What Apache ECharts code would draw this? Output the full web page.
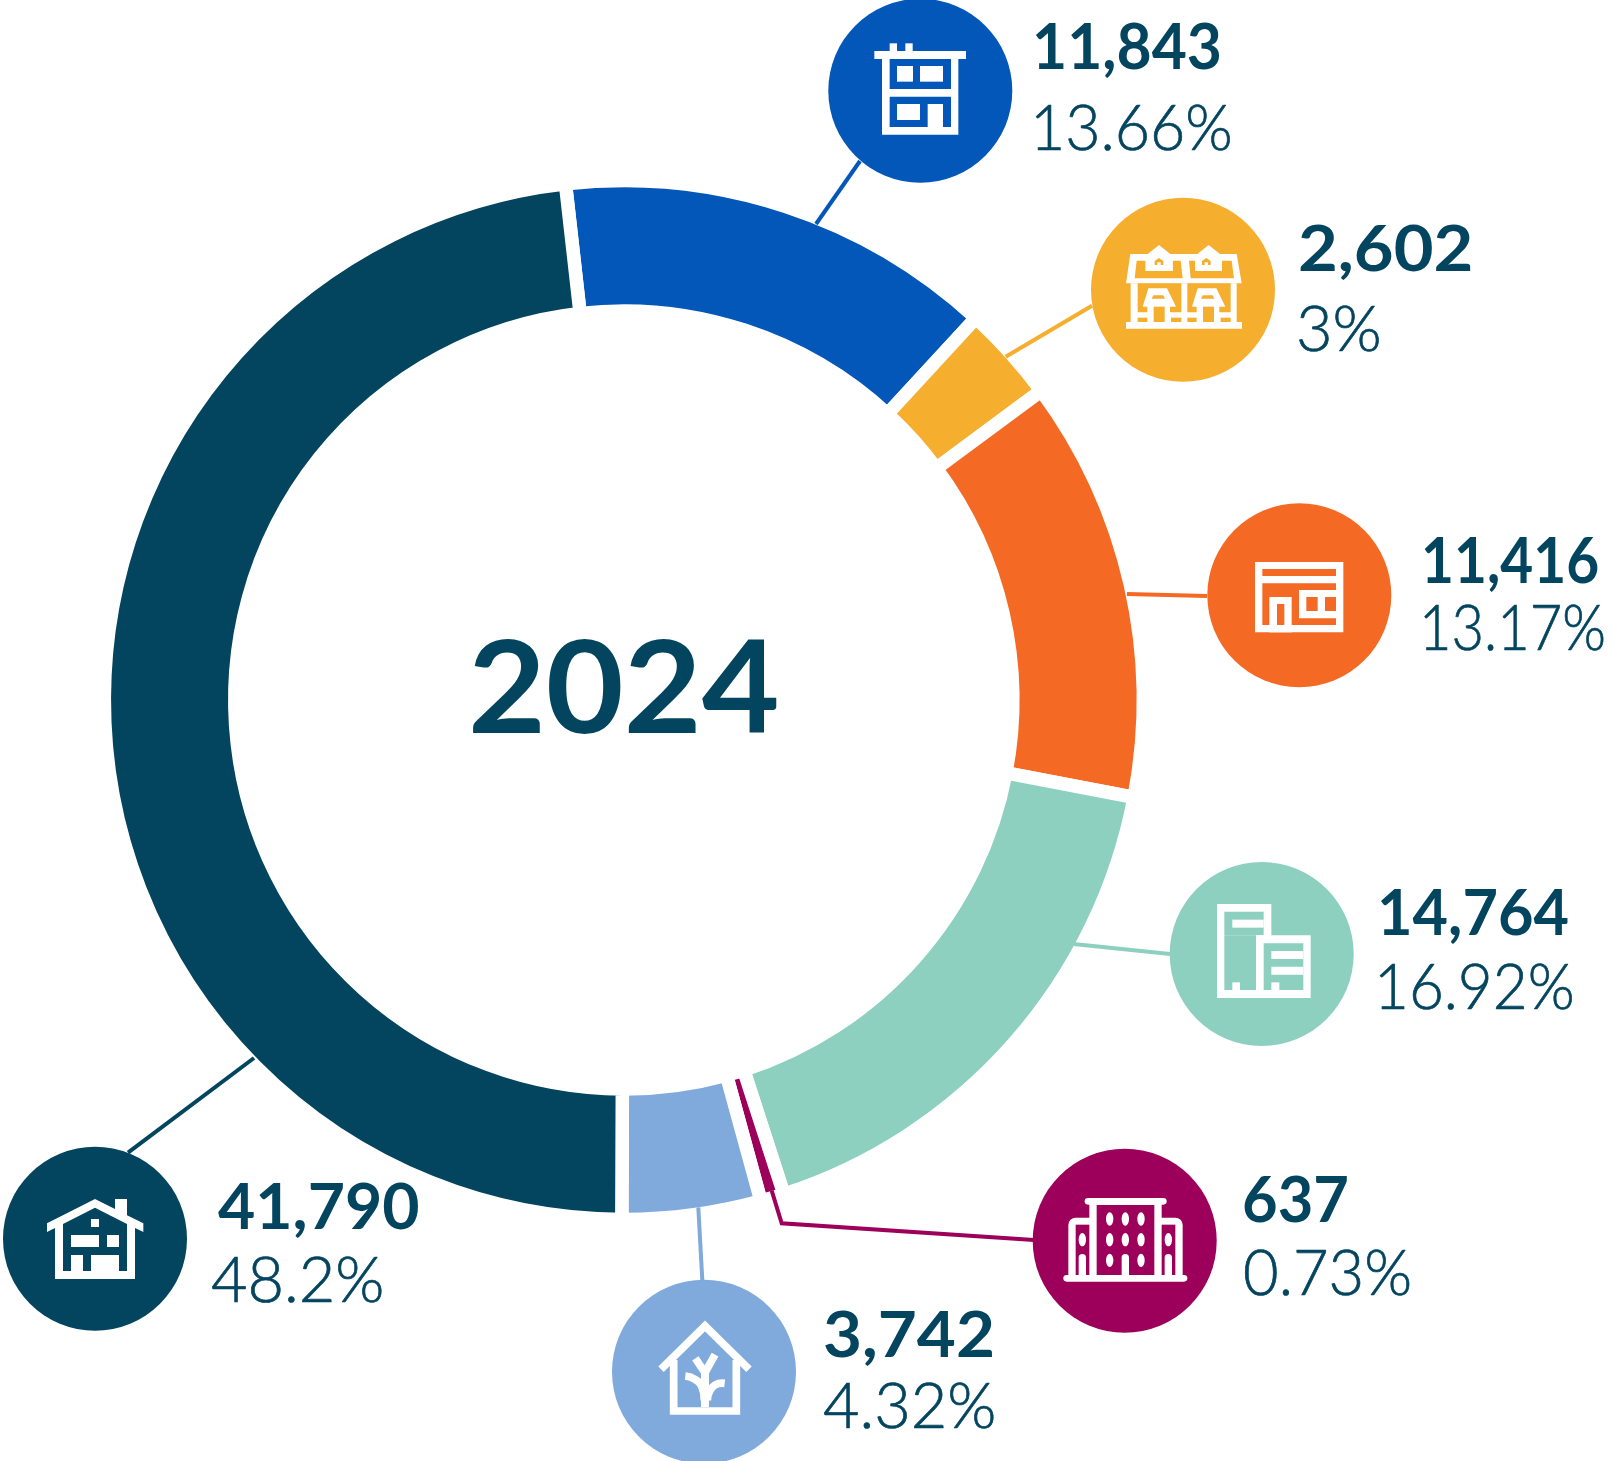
<!DOCTYPE html>
<html><head><meta charset="utf-8">
<style>html,body{margin:0;padding:0;background:#fff}#c{width:1614px;height:1461px}</style>
<script src="https://cdn.jsdelivr.net/npm/echarts@6/dist/echarts.min.js"></script>
</head><body><div id="c"></div>
<script>
const centerLabel = '2024';
const categories = ['Apartment','Townhouse','Mixed use','Office tower','Mid-rise','Garden home','House'];
const values = [11843, 2602, 11416, 14764, 637, 3742, 41790];
const shares = ['13.66%','3%','13.17%','16.92%','0.73%','4.32%','48.2%'];
const colors = ['#0357b8','#f5ae2e','#f46a25','#8dd0c0','#9d005b','#81aadc','#03445f'];
const ink = '#03445f';

const layout = [
 {c:[920.3,90.7], z:[800,0],   line:[[860,161],[816,224]],              tx:1032, vy:80, px:1030, py:161, vs:.947, ps:.965},
 {c:[1183,289.7], z:[1090,190],line:[[1092,305.7],[1005.7,356.7]],      tx:1298, vy:282, px:1296, py:362, vs:1.072, ps:1},
 {c:[1299.3,595.3],z:[1200,500],line:[[1127,594],[1207,596]],           tx:1421, vy:594, px:1419, py:661, vs:.888, ps:.89},
 {c:[1261.7,954], z:[1160,860],line:[[1073.6,943.9],[1170,954]],        tx:1377, vy:946, px:1374, py:1020, vs:.957, ps:.955},
 {c:[1124.7,1240.7],z:[1030,1140],line:[[771.7,1190.7],[781.7,1223.3],[1034,1240]],tx:1242, vy:1233, px:1243, py:1306, vs:.96, ps:.975},
 {c:[704,1371.7], z:[600,1270],line:[[698.3,1207.3],[702.3,1280]],      tx:823, vy:1368, px:823, py:1439, vs:1.052, ps:1},
 {c:[95,1238.7],  z:[0,1140],  line:[[254,1058],[128,1152.7]],          tx:218, vy:1240, px:211, py:1313, vs:1.005, ps:1}
];
const W='#fff';
const box=(x1,y1,x2,y2,f)=>({type:'rect',shape:{x:x1,y:y1,width:x2-x1,height:y2-y1},style:{fill:f}});
const rnd=(x1,y1,x2,y2,r,f)=>({type:'rect',shape:{x:x1,y:y1,width:x2-x1,height:y2-y1,r:r},style:{fill:f}});
const poly=(p,f)=>({type:'polygon',shape:{points:p},style:{fill:f}});
const oval=(cx,cy,rx,ry,f)=>({type:'ellipse',shape:{cx,cy,rx,ry},style:{fill:f}});
const stroke=(p,w,smooth)=>({type:'polyline',shape:{points:p,smooth:smooth||0},style:{stroke:W,lineWidth:w,fill:null,lineJoin:'miter'}});

function iconParts(i,H){
 if(i===0) return [
  box(223,153,498,177,W),box(269,130,291,153,W),box(316,130,338,153,W),
  box(246,177,475,404,W),box(269,177,453,267,H),box(269,290,453,381,H),
  box(291,198,339,245,W),box(360,198,429,245,W),box(291,312,360,360,W),box(383,312,429,381,W)];
 if(i===1){
  const out=[poly([[121,192],[440,192],[455,280],[108,280]],W),
   poly([[140,212],[167,212],[167,243],[248,243],[248,212],[272,212],[278,265],[134,265]],H),
   poly([[297,212],[316,212],[316,243],[396,243],[396,212],[425,212],[432,265],[302,265]],H),
   poly([[173,192],[207,165],[241,192]],W),poly([[322,192],[356,165],[390,192]],W),
   box(167,192,248,243,W),box(316,192,396,243,W),
   poly([[194,213],[207,204],[220,213],[220,225],[212,225],[212,217],[202,217],[202,225],[194,225]],H),
   poly([[336,213],[349,204],[362,213],[362,225],[354,225],[354,217],[344,217],[344,225],[336,225]],H),
   box(122,280,440,400,W),box(108,396,456,416,W),
   box(143,280,274,367,H),box(292,280,422,367,H)];
  [0,148].forEach(d=>{out.push(
   poly([[175+d,295],[231+d,295],[258+d,350],[240+d,350],[240+d,396],[172+d,396],[172+d,350],[158+d,350]],W),
   poly([[190+d,316],[220+d,316],[225+d,326],[185+d,326]],H),
   box(191+d,350,224+d,396,H));});
  [[143,172],[243,274],[292,320],[392,422]].forEach(a=>out.push(box(a[0],383,a[1],396,H)));
  return out;
 }
 if(i===2) return [
  box(165,186,430,397,W),box(187,207,408,228,H),box(187,250,408,375,H),
  box(208,291,275,397,W),box(231,312,253,375,H),
  box(297,270,408,355,W),box(319,291,353,333,H),box(375,291,408,333,H)];
 if(i===3) return [
  box(171,132,334,414,W),box(193,155,311,226,H),box(193,226,288,390,H),box(217,179,311,203,W),
  box(288,226,452,414,W),box(311,250,430,390,H),box(334,273,430,297,W),box(334,320,430,344,W),
  box(217,367,240,390,W),box(334,367,358,390,W)];
 if(i===4){
  const out=[
   rnd(115,233,200,420,[22,0,0,0],W),rnd(373,233,458,420,[0,22,0,0],W),
   box(178,183,395,410,W),
   box(200,195,373,405,H),box(137,254,178,405,H),box(395,254,436,405,H),
   rnd(164,174,410,194,10,W),rnd(100,405,472,425,10,W)];
  [239,286,333].forEach(x=>[237,299,361].forEach(y=>{ if(!(x===286&&y===361)) out.push(oval(x,y,11,20,W)); }));
  out.push(oval(157,299,11,20,W),oval(415,299,11,20,W));
  [286,157,415].forEach(x=>out.push(rnd(x-11,342,x+11,408,[11,11,0,0],W)));
  return out;
 }
 if(i===5) return [
  stroke([[183,298],[315,168],[447,298]],23),
  stroke([[221,270],[221,423],[409,423],[409,270]],23),
  box(303,300,327,411,W),
  stroke([[256,318],[285,328],[306,352],[313,392]],23,0.5),
  stroke([[374,340],[345,345],[327,368],[322,392]],23,0.5),
  stroke([[286,265],[315,308]],23),stroke([[345,254],[315,308]],23)];
 return [
  poly([[141,250],[285,177],[345,207],[345,177],[381,177],[381,226],[430,250],[430,276],[405,264],[405,417],[165,417],[165,264],[141,276]],W),
  poly([[189,252],[285,203],[381,252],[381,393],[189,393]],H),
  box(273,237,297,261,W),box(213,285,297,321,W),box(321,285,357,321,W),
  box(213,345,249,393,W),box(273,345,357,393,W)];
}

const bold='700 64px Lato, sans-serif', light='300 63px Lato, sans-serif';
const gfx=[];
values.forEach((v,i)=>{
 const L=layout[i], col=colors[i];
 gfx.push({type:'polyline',z:10,silent:true,shape:{points:L.line},style:{stroke:col,lineWidth:4,fill:null}});
 gfx.push({type:'circle',z:11,silent:true,shape:{cx:L.c[0],cy:L.c[1],r:92},style:{fill:col}});
 gfx.push({type:'group',z:12,silent:true,x:L.z[0],y:L.z[1],scaleX:1/3,scaleY:1/3,
   children:iconParts(i,col).map(o=>Object.assign({z:12,silent:true},o))});
 gfx.push({type:'text',z:12,silent:true,x:L.tx,y:L.vy,scaleX:L.vs,style:{text:v.toLocaleString('en-US'),font:bold,fill:ink,textAlign:'left',textVerticalAlign:'bottom'}});
 gfx.push({type:'text',z:12,silent:true,x:L.px,y:L.py,scaleX:L.ps,style:{text:shares[i],font:light,fill:ink,stroke:ink,lineWidth:0.7,textAlign:'left',textVerticalAlign:'bottom'}});
});
gfx.push({type:'text',z:12,silent:true,x:623.8,y:692,scaleX:1.05,style:{text:centerLabel,font:'700 128px Lato, sans-serif',fill:ink,textAlign:'center',textVerticalAlign:'middle'}});

const chart=echarts.init(document.getElementById('c'),null,{renderer:'canvas'});
chart.setOption({
 animation:false,
 backgroundColor:'#fff',
 series:[{type:'pie',silent:true,center:[623.8,700],radius:[389,519.5],startAngle:96.45,clockwise:true,
  avoidLabelOverlap:false,label:{show:false},labelLine:{show:false},emphasis:{disabled:true},
  itemStyle:{borderColor:'#fff',borderWidth:13.5},
  data:categories.map((n,i)=>({name:n,value:values[i],itemStyle:{color:colors[i]}}))}],
 graphic:{elements:gfx}
});
</script></body></html>
